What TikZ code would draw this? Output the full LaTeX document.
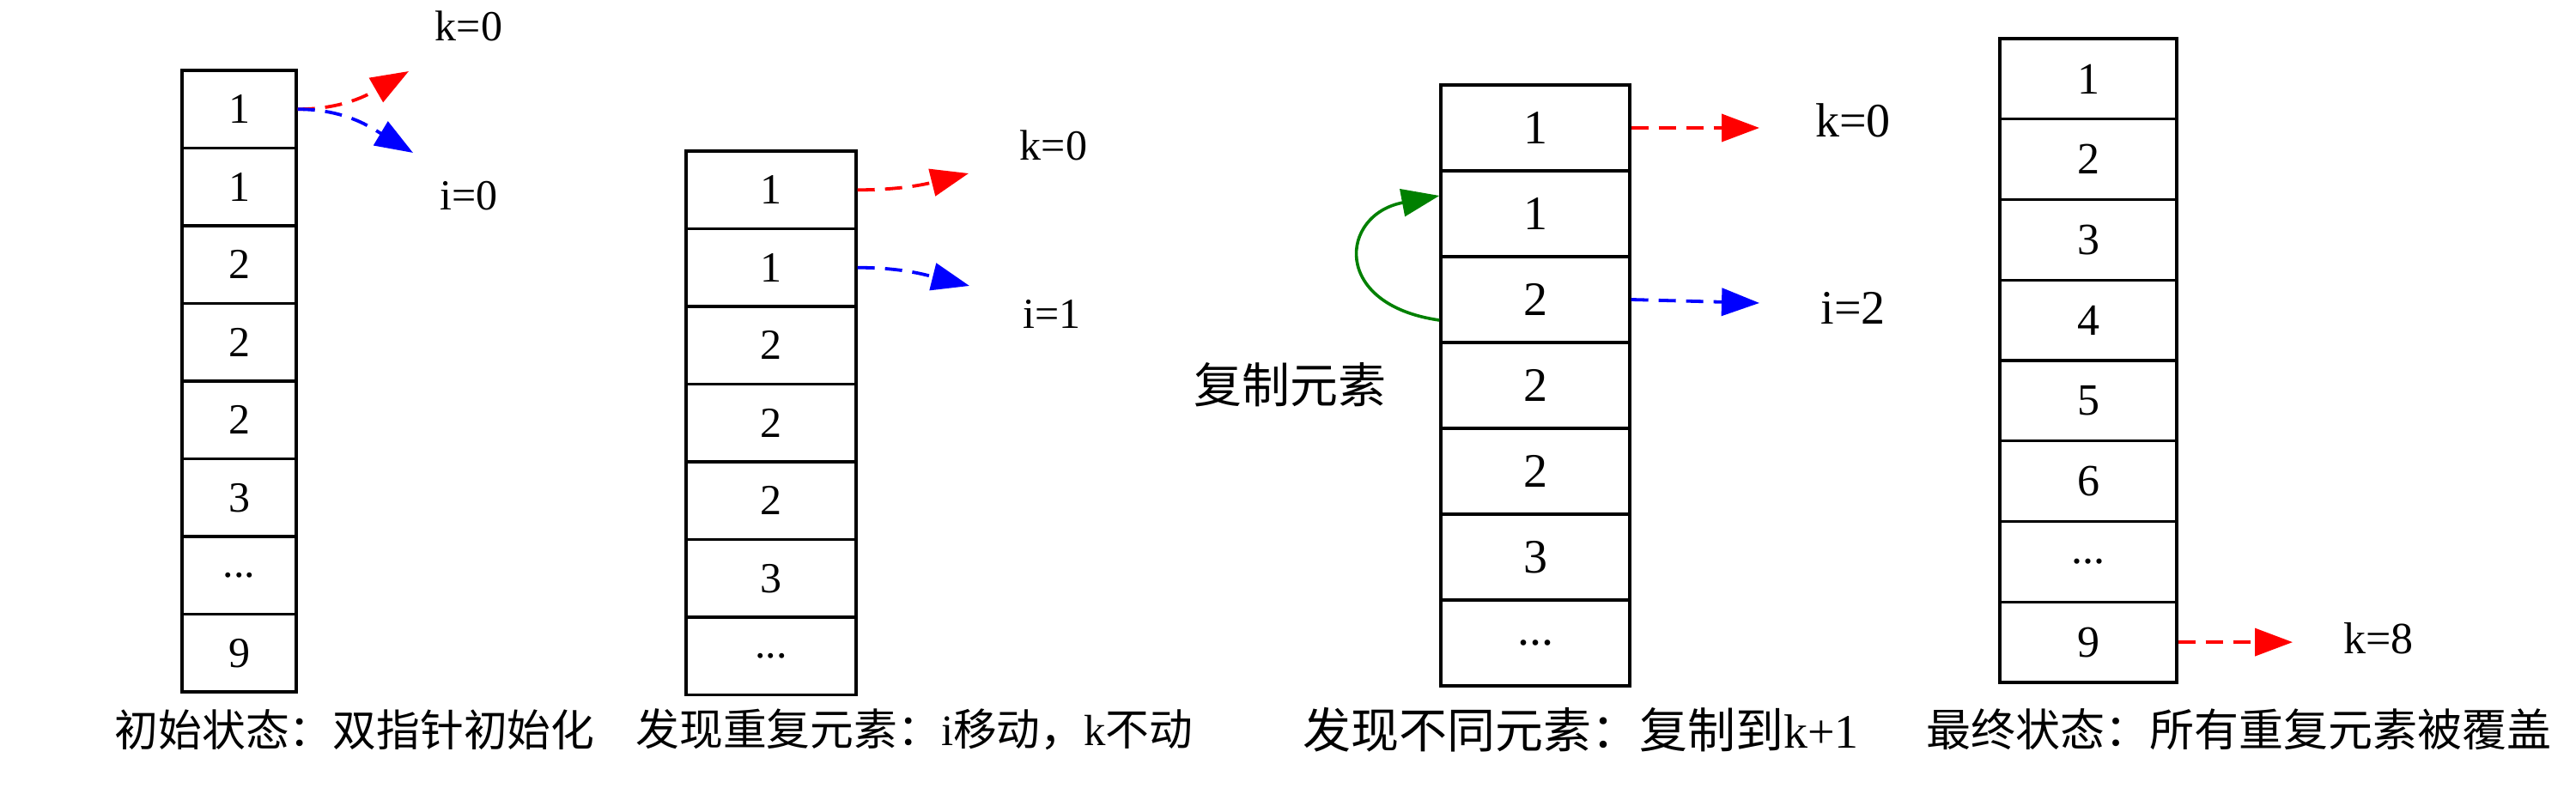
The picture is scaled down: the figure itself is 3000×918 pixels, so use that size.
\documentclass[tikz,border=0pt]{standalone}
\usepackage{fontspec}
\setmainfont{Liberation Serif}
\newfontfamily\cjk{Noto Sans CJK SC}
\usetikzlibrary{arrows.meta}
\definecolor{gvgreen}{RGB}{0,128,0}
\begin{document}
\begin{tikzpicture}[x=0.25pt,y=0.25pt,
  cellA/.style={draw, line width=0.85pt, inner sep=0pt, minimum width=33.25pt, minimum height=22.625pt, font=\fontsize{12.5pt}{15pt}\selectfont},
  cellB/.style={draw, line width=0.85pt, inner sep=0pt, minimum width=49.5pt, minimum height=22.625pt, font=\fontsize{12.5pt}{15pt}\selectfont},
  cellC/.style={draw, line width=0.85pt, inner sep=0pt, minimum width=55pt, minimum height=25pt, font=\fontsize{14pt}{17pt}\selectfont},
  cellD/.style={draw, line width=0.85pt, inner sep=0pt, minimum width=51.5pt, minimum height=23.4375pt, font=\fontsize{13pt}{16pt}\selectfont},
  lblA/.style={inner sep=0pt, anchor=base, font=\fontsize{12.5pt}{15pt}\selectfont},
  lblC/.style={inner sep=0pt, anchor=base, font=\fontsize{14pt}{17pt}\selectfont},
  capA/.style={inner sep=0pt, font=\fontsize{12.7pt}{15pt}\selectfont},
  ptr/.style={dash pattern=on 5pt off 3pt, line width=0.95pt, -{Triangle[length=11pt,width=8pt]}},
  kptr/.style={ptr, red},
  iptr/.style={ptr, blue}
]
\useasboundingbox (0,0) rectangle (3000,-918);

% Panel 1
\node[cellA] (a1) at (278.5,-127.25) {1};
\node[cellA] (a2) at (278.5,-217.75) {1};
\node[cellA] (a3) at (278.5,-308.25) {2};
\node[cellA] (a4) at (278.5,-398.75) {2};
\node[cellA] (a5) at (278.5,-489.25) {2};
\node[cellA] (a6) at (278.5,-579.75) {3};
\node[cellA] (a7) at (278.5,-670.25) {...};
\node[cellA] (a8) at (278.5,-760.75) {9};
\node[lblA] (ak) at (546,-48) {k=0};
\node[lblA] (ai) at (546,-245) {i=0};
\coordinate (akt) at (476,-83);
\coordinate (ait) at (481,-178);
\draw[kptr] (a1.east) to[out=0,in=210] (akt);
\draw[iptr] (a1.east) to[out=0,in=149] (ait);
\node[capA] (cap1) at (413,-850) {\cjk 初始状态：双指针初始化};

% Panel 2
\node[cellB] (b1) at (898,-221.25) {1};
\node[cellB] (b2) at (898,-311.75) {1};
\node[cellB] (b3) at (898,-402.25) {2};
\node[cellB] (b4) at (898,-492.75) {2};
\node[cellB] (b5) at (898,-583.25) {2};
\node[cellB] (b6) at (898,-673.75) {3};
\node[cellB] (b7) at (898,-764.25) {...};
\node[lblA] (bk) at (1227,-187) {k=0};
\node[lblA] (bi) at (1225,-383) {i=1};
\coordinate (bkt) at (1128,-202);
\coordinate (bit) at (1129,-333);
\draw[kptr] (b1.east) to[out=0,in=194] (bkt);
\draw[iptr] (b2.east) to[out=0,in=166] (bit);
\node[capA] (cap2) at (1065,-850) {{\cjk 发现重复元素：}i{\cjk 移动，}k{\cjk 不动}};

% Panel 3
\node[cellC] (c1) at (1788,-149) {1};
\node[cellC] (c2) at (1788,-249) {1};
\node[cellC] (c3) at (1788,-349) {2};
\node[cellC] (c4) at (1788,-449) {2};
\node[cellC] (c5) at (1788,-549) {2};
\node[cellC] (c6) at (1788,-649) {3};
\node[cellC] (c7) at (1788,-749) {...};
\node[lblC] (ck) at (2158,-160) {k=0};
\node[lblC] (ci) at (2158,-378) {i=2};
\coordinate (ckt) at (2049,-149);
\coordinate (cit) at (2049,-353);
\draw[kptr] (c1.east) -- (ckt);
\draw[iptr] (c3.east) -- (cit);
\draw[gvgreen, line width=0.9pt, -{Triangle[length=11pt,width=8pt]}]
  ([yshift=-6pt]c3.west) .. controls (1550,-355) and (1560,-250) .. ([yshift=5.25pt]c2.west);
\node[inner sep=0pt, font=\fontsize{14pt}{17pt}\selectfont] (copy) at (1502,-448) {\cjk 复制元素};
\node[inner sep=0pt, font=\fontsize{14pt}{17pt}\selectfont] (cap3) at (1841,-850) {{\cjk 发现不同元素：复制到}k+1};

% Panel 4
\node[cellD] (d1) at (2432,-91.875) {1};
\node[cellD] (d2) at (2432,-185.625) {2};
\node[cellD] (d3) at (2432,-279.375) {3};
\node[cellD] (d4) at (2432,-373.125) {4};
\node[cellD] (d5) at (2432,-466.875) {5};
\node[cellD] (d6) at (2432,-560.625) {6};
\node[cellD] (d7) at (2432,-654.375) {...};
\node[cellD] (d8) at (2432,-748.125) {9};
\node[lblA, font=\fontsize{13pt}{16pt}\selectfont] (dk) at (2770,-762) {k=8};
\coordinate (dkt) at (2670,-748.125);
\draw[kptr] (d8.east) -- (dkt);
\node[inner sep=0pt, font=\fontsize{13pt}{16pt}\selectfont] (cap4) at (2607,-850) {\cjk 最终状态：所有重复元素被覆盖};
\end{tikzpicture}
\end{document}
